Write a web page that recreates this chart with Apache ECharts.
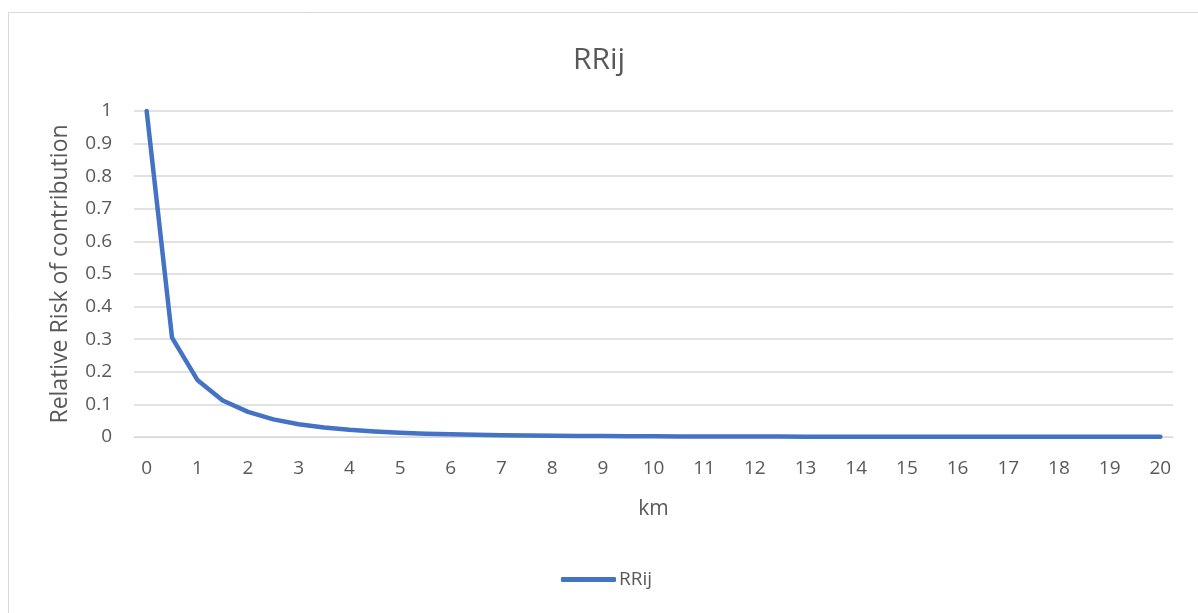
<!DOCTYPE html>
<html>
<head>
<meta charset="utf-8">
<script src="https://cdn.jsdelivr.net/npm/echarts@6/dist/echarts.min.js"></script>
<style>
  html, body { margin: 0; padding: 0; background: #ffffff; }
  #chart { width: 1198px; height: 613px; }
</style>
</head>
<body>
<div id="chart"></div>
<script>
// Distance from the source, in km (half-km steps)
const distances = [
  '0','0.5','1','1.5','2','2.5','3','3.5','4','4.5','5','5.5','6','6.5','7','7.5',
  '8','8.5','9','9.5','10','10.5','11','11.5','12','12.5','13','13.5','14','14.5',
  '15','15.5','16','16.5','17','17.5','18','18.5','19','19.5','20'
];
// Relative risk of contribution at each distance
const rrij = [
  1, 0.305, 0.175, 0.112, 0.077, 0.054, 0.039, 0.029, 0.022, 0.017, 0.013,
  0.010, 0.0082, 0.0066, 0.0054, 0.0045, 0.0038, 0.0032, 0.0028, 0.0024, 0.0021,
  0.0018, 0.0016, 0.0014, 0.0013, 0.0012, 0.0011, 0.0010, 0.0009, 0.0008,
  0.0008, 0.0007, 0.0007, 0.0006, 0.0006, 0.0005, 0.0005, 0.0005, 0.0004, 0.0004, 0.0004
];
const yTicks = [0, 0.1, 0.2, 0.3, 0.4, 0.5, 0.6, 0.7, 0.8, 0.9, 1];

const FONT = '"Open Sans", Lato, sans-serif';
const TEXT = '#595959';

const chart = echarts.init(document.getElementById('chart'), null, { renderer: 'canvas' });
chart.setOption({
  backgroundColor: '#ffffff',
  animation: false,
  graphic: [{
    type: 'rect',
    shape: { x: 8.5, y: 12.5, width: 1300, height: 700 },
    style: { fill: 'none', stroke: '#d9d9d9', lineWidth: 1 },
    silent: true,
    z: -10
  }],
  title: {
    text: 'RRij',
    left: 'center',
    top: 40,
    textStyle: { fontFamily: FONT, fontSize: 30, fontWeight: 'normal', color: TEXT }
  },
  legend: {
    top: 565,
    left: 556,
    itemWidth: 55,
    itemHeight: 5,
    itemGap: 10,
    icon: 'roundRect',
    textStyle: { fontFamily: FONT, fontSize: 19, color: TEXT, padding: [0, 0, 0, -2] },
    data: ['RRij']
  },
  grid: { left: 134, right: 25, top: 111, bottom: 176, containLabel: false },
  xAxis: {
    type: 'category',
    data: distances,
    boundaryGap: true,
    name: 'km',
    nameLocation: 'middle',
    nameGap: 62,
    nameTextStyle: { fontFamily: FONT, fontSize: 21, color: TEXT },
    axisLine: { show: true, lineStyle: { color: '#d9d9d9', width: 1 } },
    axisTick: { show: false },
    axisLabel: {
      interval: 1,
      margin: 22,
      fontFamily: FONT, fontSize: 19, color: TEXT
    },
    splitLine: { show: false }
  },
  yAxis: {
    type: 'value',
    min: 0,
    max: 1,
    interval: 0.1,
    name: 'Relative Risk of contribution',
    nameLocation: 'middle',
    nameGap: 62,
    nameTextStyle: { fontFamily: FONT, fontSize: 23, color: TEXT },
    axisLine: { show: false },
    axisTick: { show: false },
    axisLabel: {
      margin: 22,
      fontFamily: FONT, fontSize: 19, color: TEXT,
      formatter: v => {
        const t = yTicks.find(k => Math.abs(k - v) < 1e-9);
        return t === undefined ? '' : String(+t.toFixed(1));
      }
    },
    splitLine: { show: true, lineStyle: { color: '#d9d9d9', width: 1.5 } }
  },
  series: [{
    name: 'RRij',
    type: 'line',
    data: rrij,
    showSymbol: false,
    symbol: 'none',
    smooth: false,
    lineStyle: { color: '#4472c4', width: 4.5, cap: 'round', join: 'round' },
    itemStyle: { color: '#4472c4' }
  }]
});
</script>
</body>
</html>
